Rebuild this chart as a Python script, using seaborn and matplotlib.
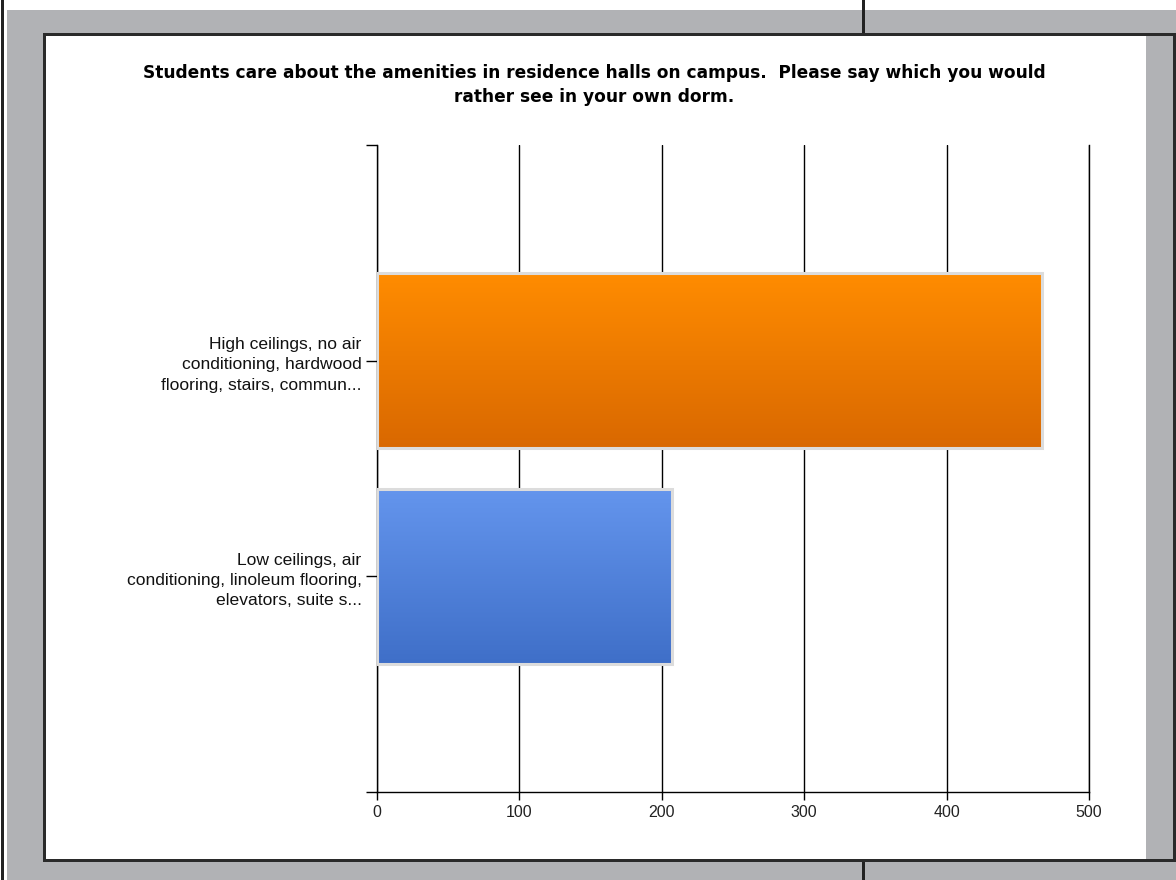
import matplotlib
matplotlib.use('Agg')
import matplotlib.pyplot as plt
import numpy   as np
import pandas  as pd
import seaborn as sns
from matplotlib.patches import Rectangle
from matplotlib.colors  import to_rgb

# Data
categories = ['High ceilings, no air\nconditioning, hardwood\nflooring, stairs, commun...',
              'Low ceilings, air\nconditioning, linoleum flooring,\nelevators, suite s...']
responses  = [467, 207]
top_colors = ['#ff8c00', '#6495ed']
bot_colors = ['#d96800', '#3f6fc8']
x_ticks    = [0, 100, 200, 300, 400, 500]
title_text = ('Students care about the amenities in residence halls on campus.  Please say which you would\n'
              'rather see in your own dorm.')

W, H = 1176, 880


def px_rect(fig, x0, y0, x1, y1, **kw):
    '''Rectangle given in image pixels (top-left origin).'''
    fig.add_artist(Rectangle((x0 / W, 1 - y1 / H), (x1 - x0) / W, (y1 - y0) / H,
                             transform=fig.transFigure, **kw))


def survey_bars():
    sns.set_theme(style='white')
    plt.rcParams['font.family'] = ['Liberation Sans', 'DejaVu Sans']

    fig = plt.figure(figsize=(W / 100, H / 100), dpi=100, facecolor='white')

    # 1: the page frame around the chart
    px_rect(fig, 7, 10, W, H, facecolor='#b1b2b5', edgecolor='none', zorder=0)
    px_rect(fig, 1, 0, 4, H, facecolor='#222222', edgecolor='none', zorder=0)
    px_rect(fig, 862, 0, 865, H, facecolor='#222222', edgecolor='none', zorder=0)
    px_rect(fig, 43, 33, 1176, 862, facecolor='#2a2a2a', edgecolor='none', zorder=0)
    px_rect(fig, 46, 36, 1173, 859, facecolor='#b1b2b5', edgecolor='none', zorder=0)
    px_rect(fig, 46, 36, 1146, 859, facecolor='white', edgecolor='none', zorder=0)

    # 2: the bar chart
    ax = fig.add_axes([377 / W, 1 - 792 / H, (1089 - 377) / W, (792 - 145) / H])
    ax.set_facecolor('none')
    df = pd.DataFrame({'answer': categories, 'count': responses})
    sns.barplot(data=df, x='count', y='answer', hue='answer', palette=top_colors,
                orient='h', width=0.81, legend=False, ax=ax)

    for patch, c_top, c_bot in zip(ax.patches, top_colors, bot_colors):
        x0, y0 = patch.get_x(), patch.get_y()
        w, h = patch.get_width(), patch.get_height()
        grad = np.linspace(to_rgb(c_top), to_rgb(c_bot), 256)[:, None, :]
        ax.imshow(grad, extent=(x0, x0 + w, y0 + h, y0), aspect='auto',
                  origin='upper', zorder=2, interpolation='bilinear')
        patch.set_facecolor('none')
        patch.set_edgecolor('#dcdcdc')
        patch.set_linewidth(2.2)
        patch.set_zorder(3)

    ax.set_xlim(0, 500)
    ax.set_ylim(2, -1)
    ax.set_xticks(x_ticks)
    ax.set_xticklabels([str(t) for t in x_ticks], fontsize=11.5, color='#222222')
    ax.set_yticks([-1, 0, 1, 2])
    ax.set_yticklabels([''] + categories + [''], fontsize=12.6, color='#111111',
                       linespacing=1.45)
    ax.tick_params(axis='x', length=6, width=1, color='black', pad=3, bottom=True)
    ax.tick_params(axis='y', length=8, width=1, color='black', pad=3, left=True)
    ax.set_xlabel('')
    ax.set_ylabel('')

    ax.grid(True, axis='x', color='black', linewidth=1.0)
    ax.grid(False, axis='y')
    ax.set_axisbelow(True)
    ax.spines['top'].set_visible(False)
    for side in ['left', 'bottom', 'right']:
        ax.spines[side].set_color('black')
        ax.spines[side].set_linewidth(1.0)

    fig.text(594 / W, 1 - 85 / H, title_text, ha='center', va='center',
             fontsize=12.25, fontweight='bold', family=['DejaVu Sans'],
             linespacing=1.45, color='black')

    fig.savefig('out.png', dpi=100, facecolor=fig.get_facecolor())


if __name__ == "__main__":

    survey_bars()
